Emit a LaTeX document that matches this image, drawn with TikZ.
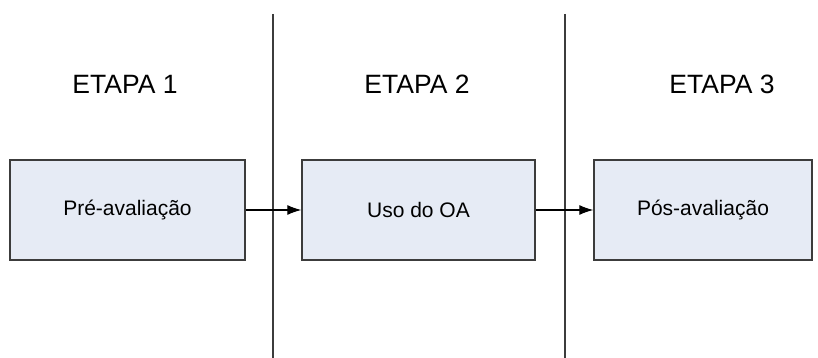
\documentclass[tikz,border=0pt]{standalone}
\usepackage{fontspec}
\setmainfont{Liberation Sans}
\usetikzlibrary{arrows.meta}
\definecolor{boxfill}{HTML}{E6EBF5}
\definecolor{edge}{HTML}{3C3C3C}
\begin{document}
\begin{tikzpicture}[x=1pt,y=-1pt,
  stagebox/.style={draw=edge,line width=1.4pt,fill=boxfill,inner sep=0pt,font=\fontsize{21}{24}\selectfont},
  heading/.style={inner sep=0pt,font=\fontsize{26.5}{30}\selectfont},
  sep/.style={draw=edge,line width=1.4pt},
  flow/.style={draw=black,line width=1.1pt,-{Latex[length=14pt,width=10pt]}}]
\useasboundingbox (0,0) rectangle (818,358);
\coordinate (s1t) at (273,14);
\coordinate (s1b) at (273,358);
\coordinate (s2t) at (565,14);
\coordinate (s2b) at (565,358);
\draw[sep] (s1t) -- (s1b);
\draw[sep] (s2t) -- (s2b);
\node[heading] (h1) at (125,84.5) {ETAPA 1};
\node[heading] (h2) at (417,84.5) {ETAPA 2};
\node[heading] (h3) at (722,84.5) {ETAPA 3};
\node[stagebox,minimum width=235pt,minimum height=100pt] (b1) at (127.5,210) {Pré-avaliação};
\node[stagebox,minimum width=233pt,minimum height=100pt] (b2) at (418.5,210) {Uso do OA};
\node[stagebox,minimum width=218pt,minimum height=100pt] (b3) at (703,210) {Pós-avaliação};
\draw[flow] (b1.east) -- (b2.west);
\draw[flow] (b2.east) -- (b3.west);
\end{tikzpicture}
\end{document}
